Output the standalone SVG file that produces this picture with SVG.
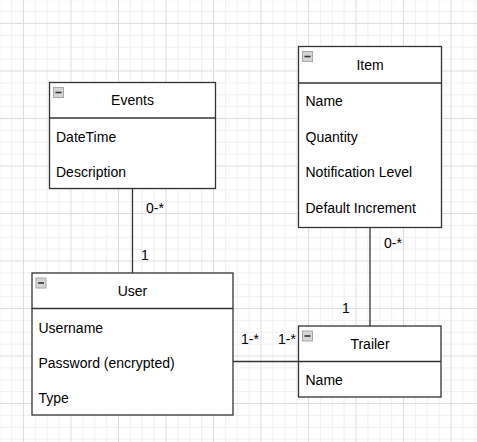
<svg xmlns="http://www.w3.org/2000/svg" width="477" height="442" viewBox="0 0 477 442">
<style>
.box{fill:#ffffff;stroke:#333333;stroke-width:1.3}
.sep{stroke:#333333;stroke-width:1.3;fill:none}
.t{font-family:"Liberation Sans",Arial,sans-serif;font-size:14px;fill:#000000}
.c{text-anchor:middle}
.conn{stroke:#333333;stroke-width:1.3;fill:none}
.ico{fill:#d4d4d4;stroke:#a8a8a8;stroke-width:1}
.icm{stroke:#333333;stroke-width:1.6}
</style>
<defs>
<pattern id="grid" patternUnits="userSpaceOnUse" x="23" y="23" width="47.5" height="47.5">
<rect x="0" y="0" width="47.5" height="47.5" fill="#ffffff"/>
<rect x="11.875" y="0" width="1" height="47.5" fill="#f0f0f0"/>
<rect x="23.75" y="0" width="1" height="47.5" fill="#f0f0f0"/>
<rect x="35.625" y="0" width="1" height="47.5" fill="#f0f0f0"/>
<rect x="0" y="11.875" width="47.5" height="1" fill="#f0f0f0"/>
<rect x="0" y="23.75" width="47.5" height="1" fill="#f0f0f0"/>
<rect x="0" y="35.625" width="47.5" height="1" fill="#f0f0f0"/>
<rect x="0" y="0" width="1" height="47.5" fill="#dddddd"/>
<rect x="0" y="0" width="47.5" height="1" fill="#dddddd"/>
</pattern>
<g id="minus">
<rect class="ico" x="0.5" y="0.5" width="10" height="10"/>
<line class="icm" x1="2.5" y1="5.5" x2="8.5" y2="5.5"/>
</g>
</defs>
<rect x="0" y="0" width="477" height="442" fill="url(#grid)"/>

<g id="connectors">
<line class="conn" x1="132.5" y1="188.5" x2="132.5" y2="273"/>
<line class="conn" x1="370" y1="227.5" x2="370" y2="326"/>
<line class="conn" x1="233" y1="361.5" x2="298.5" y2="361.5"/>
<text class="t" x="146" y="213">0-*</text>
<text class="t" x="141" y="260">1</text>
<text class="t" x="384" y="248">0-*</text>
<text class="t" x="342" y="313">1</text>
<text class="t" x="241" y="344">1-*</text>
<text class="t" x="278" y="344">1-*</text>
</g>

<g id="events">
<rect class="box" x="49.5" y="82.5" width="166" height="106"/>
<line class="sep" x1="49.5" y1="118" x2="215.5" y2="118"/>
<use href="#minus" x="53" y="87"/>
<text class="t c" x="132.5" y="105">Events</text>
<text class="t" x="56" y="142">DateTime</text>
<text class="t" x="56" y="177">Description</text>
</g>

<g id="item">
<rect class="box" x="298.5" y="46.5" width="143" height="181"/>
<line class="sep" x1="298.5" y1="83" x2="441.5" y2="83"/>
<use href="#minus" x="302" y="51"/>
<text class="t c" x="370" y="70">Item</text>
<text class="t" x="305.5" y="106">Name</text>
<text class="t" x="305.5" y="142">Quantity</text>
<text class="t" x="305.5" y="177">Notification Level</text>
<text class="t" x="305.5" y="213">Default Increment</text>
</g>

<g id="user">
<rect class="box" x="32" y="273" width="201" height="142"/>
<line class="sep" x1="32" y1="308.5" x2="233" y2="308.5"/>
<use href="#minus" x="35.5" y="277.5"/>
<text class="t c" x="132.5" y="296">User</text>
<text class="t" x="38.5" y="332.5">Username</text>
<text class="t" x="38.5" y="367.5">Password (encrypted)</text>
<text class="t" x="38.5" y="403">Type</text>
</g>

<g id="trailer">
<rect class="box" x="298.5" y="326" width="142.5" height="71"/>
<line class="sep" x1="298.5" y1="361.5" x2="441" y2="361.5"/>
<use href="#minus" x="302" y="330.5"/>
<text class="t c" x="370" y="349">Trailer</text>
<text class="t" x="305.5" y="385">Name</text>
</g>
</svg>
